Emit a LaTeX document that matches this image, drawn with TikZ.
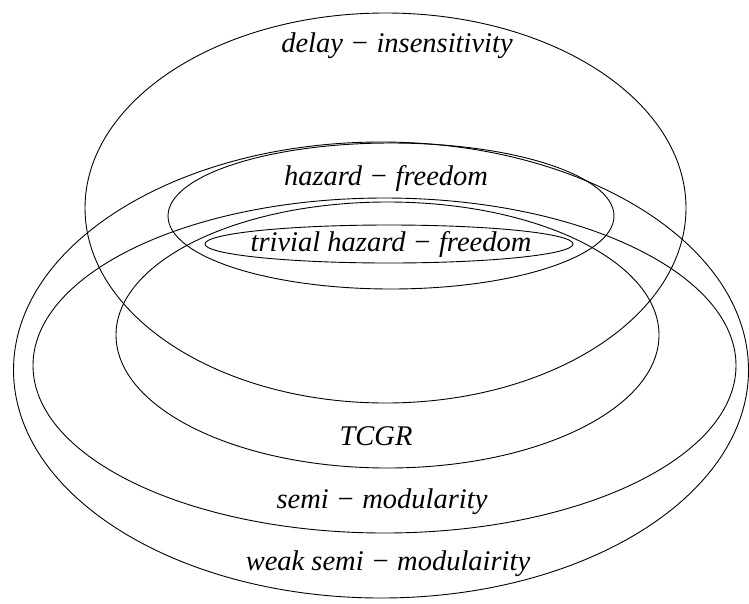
\documentclass[tikz,border=0pt]{standalone}
\usepackage{fontspec}
\setmainfont{Liberation Serif}
\begin{document}
\begin{tikzpicture}[x=1pt,y=-1pt,
  setline/.style={line width=0.9pt,draw=black},
  setlabel/.style={font=\fontsize{28.5}{31}\selectfont\itshape,inner sep=0pt,anchor=base}]
\useasboundingbox (0,0) rectangle (749,603);
% ellipses
\draw[setline] (385.5,208) ellipse [x radius=300.5pt, y radius=195pt];
\draw[setline] (391,216) ellipse [x radius=223pt, y radius=73pt];
\draw[setline] (389,244) ellipse [x radius=184pt, y radius=19pt];
\draw[setline] (387.5,335) ellipse [x radius=271.5pt, y radius=133pt];
\draw[setline] (384.5,365.5) ellipse [x radius=351.5pt, y radius=167.5pt];
\draw[setline] (381,370) ellipse [x radius=367.5pt, y radius=228pt];
% labels
\node[setlabel] (di) at (397,52) {delay − insensitivity};
\node[setlabel] (hf) at (386,185) {hazard − freedom};
\node[setlabel] (thf) at (391,251) {trivial hazard − freedom};
\node[setlabel] (tcgr) at (376,445) {TCGR};
\node[setlabel] (sm) at (382,508) {semi − modularity};
\node[setlabel] (wsm) at (388,570) {weak semi − modulairity};
\end{tikzpicture}
\end{document}
